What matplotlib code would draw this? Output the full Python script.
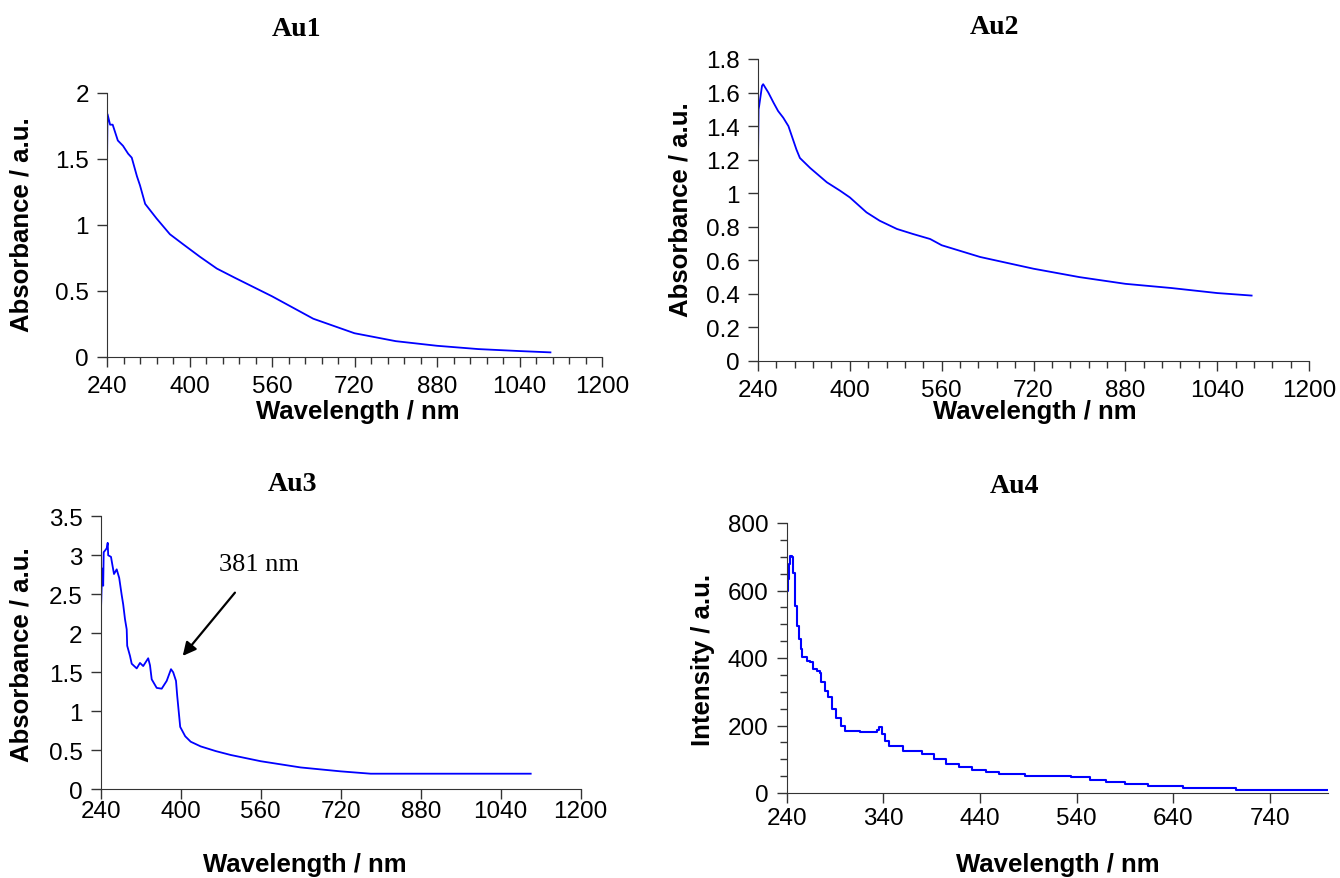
import numpy as np
import matplotlib.pyplot as plt
from matplotlib.ticker import FixedLocator, FormatStrFormatter

# Au1 absorbance
au1_wl = [240, 241, 246, 251, 261, 271, 281, 288, 298, 304, 314, 336, 362, 387,
          420, 453, 488, 560, 640, 720, 800, 880, 960, 1040, 1100]
au1_abs = [1.46, 1.84, 1.76, 1.76, 1.64, 1.60, 1.54, 1.51, 1.37, 1.30, 1.16, 1.05, 0.93, 0.856,
           0.76, 0.67, 0.60, 0.46, 0.29, 0.18, 0.12, 0.085, 0.06, 0.045, 0.035]

# Au2 absorbance
au2_wl = [240, 241, 242, 247, 249, 258, 267, 275, 284, 293, 301, 307, 313, 331,
          360, 383, 400, 429, 452, 482, 510, 540, 560, 627, 720, 800, 880, 960, 1040, 1100]
au2_abs = [1.20, 1.50, 1.52, 1.64, 1.65, 1.60, 1.54, 1.49, 1.45, 1.40, 1.32, 1.26, 1.21, 1.15,
           1.065, 1.015, 0.975, 0.886, 0.836, 0.787, 0.757, 0.727, 0.69, 0.62, 0.55, 0.50, 0.46, 0.435, 0.405, 0.39]

# Au3 absorbance
au3_wl = [240, 240.6, 243, 245, 246, 248.6, 252, 254, 255, 260.6, 263, 266.6, 272, 277,
          282, 285, 288.6, 292, 293, 298.6, 302, 312, 318.6, 325, 335, 338.6, 342, 352,
          362, 372, 380.6, 385, 390.6, 393, 399, 409, 420, 440, 470, 500, 560, 640, 720,
          780, 1100]
au3_abs = [1.5, 2.31, 2.83, 2.61, 3.04, 3.06, 3.09, 3.16, 3.0, 2.98, 2.89, 2.76, 2.82, 2.71,
           2.49, 2.37, 2.18, 2.05, 1.84, 1.71, 1.61, 1.55, 1.62, 1.58, 1.68, 1.59, 1.41, 1.30,
           1.29, 1.39, 1.54, 1.50, 1.39, 1.20, 0.80, 0.68, 0.61, 0.55, 0.49, 0.44, 0.36, 0.28, 0.23,
           0.20, 0.20]

# Au4 intensity
au4_wl = [240, 241, 242.4, 243.4, 245, 246.8, 248.6, 251, 252.7, 254.4, 256, 260.6, 264,
          267.4, 271, 274, 276, 279.5, 283, 287, 291, 296, 300, 316, 326, 333, 336, 339,
          342, 346, 360, 380, 392, 405, 418, 432, 446, 460, 487, 534, 554, 570, 590, 614,
          650, 705, 800]
au4_int = [600, 634, 680, 701, 698, 652, 555, 496, 456, 427, 402, 392, 387,
           367, 362, 357, 328, 303, 283, 250, 222, 200, 185, 181, 180, 186, 195, 175,
           155, 140, 125, 115, 100, 86, 76, 69, 62, 56, 51, 47, 39, 33, 27, 22,
           16, 10, 10]

W, H = 1340, 879
fig = plt.figure(figsize=(W / 100, H / 100), dpi=100)

sans = 'Liberation Sans'
serif = 'Liberation Serif'
blue = '#0000FF'


def make_axes(l, r, t, b, xpad):
    ax = fig.add_axes([l / W, 1 - b / H, (r - l) / W, (b - t) / H])
    for s in ['top', 'right']:
        ax.spines[s].set_visible(False)
    for s in ['left', 'bottom']:
        ax.spines[s].set_color('#333333')
    ax.tick_params(which='major', direction='out', length=7, width=1, colors='#333333',
                   labelcolor='black', labelsize=17.5, pad=6)
    ax.tick_params(axis='x', which='major', pad=xpad)
    ax.tick_params(which='minor', direction='out', length=5, width=1, colors='#333333')
    return ax


# Au1
ax1 = make_axes(107, 602, 94, 358, 6)
ax1.plot(au1_wl, au1_abs, color=blue, lw=1.3)
ax1.set_xlim(240, 1200)
ax1.set_ylim(0, 2)
ax1.xaxis.set_major_locator(FixedLocator(np.arange(240, 1201, 160)))
ax1.xaxis.set_minor_locator(FixedLocator(np.arange(240, 1201, 32)))
ax1.yaxis.set_major_locator(FixedLocator(np.arange(0, 2.01, 0.5)))
ax1.yaxis.set_major_formatter(FormatStrFormatter('%g'))

# Au2
ax2 = make_axes(758, 1309, 60, 362, 6)
ax2.plot(au2_wl, au2_abs, color=blue, lw=1.3)
ax2.set_xlim(240, 1200)
ax2.set_ylim(0, 1.8)
ax2.xaxis.set_major_locator(FixedLocator(np.arange(240, 1201, 160)))
ax2.xaxis.set_minor_locator(FixedLocator(np.arange(240, 1201, 32)))
ax2.yaxis.set_major_locator(FixedLocator(np.round(np.arange(0, 1.81, 0.2), 1)))
ax2.yaxis.set_major_formatter(FormatStrFormatter('%g'))

# Au3
ax3 = make_axes(100.7, 580.7, 517.3, 790.3, 1)
ax3.plot(au3_wl, au3_abs, color=blue, lw=1.3)
ax3.set_xlim(240, 1200)
ax3.set_ylim(0, 3.5)
ax3.xaxis.set_major_locator(FixedLocator(np.arange(240, 1201, 160)))
ax3.yaxis.set_major_locator(FixedLocator(np.arange(0, 3.51, 0.5)))
ax3.yaxis.set_major_formatter(FormatStrFormatter('%g'))
ax3.annotate('381 nm', xy=(404, 1.71), xytext=(556, 2.89), fontsize=19, family=serif,
             ha='center', va='center',
             arrowprops=dict(arrowstyle='-|>', color='black', lw=1.6, mutation_scale=20,
                             shrinkA=14, shrinkB=0))

# Au4
ax4 = make_axes(786.7, 1328, 524, 794, 3)
ax4.plot(au4_wl, au4_int, color=blue, lw=1.5, drawstyle='steps-post')
ax4.set_xlim(240, 800)
ax4.set_ylim(0, 800)
ax4.xaxis.set_major_locator(FixedLocator(np.arange(240, 800, 100)))
ax4.yaxis.set_major_locator(FixedLocator(np.arange(0, 801, 200)))
ax4.yaxis.set_minor_locator(FixedLocator(np.arange(0, 801, 50)))

for ax in [ax1, ax2, ax3, ax4]:
    for lab in ax.get_xticklabels() + ax.get_yticklabels():
        lab.set_family(sans)

# titles and axis labels
fig.text(297 / W, 1 - 30 / H, 'Au1', family=serif, weight='bold', fontsize=20, ha='center', va='center')
fig.text(995 / W, 1 - 27 / H, 'Au2', family=serif, weight='bold', fontsize=20, ha='center', va='center')
fig.text(292 / W, 1 - 485 / H, 'Au3', family=serif, weight='bold', fontsize=20, ha='center', va='center')
fig.text(1014 / W, 1 - 487 / H, 'Au4', family=serif, weight='bold', fontsize=20, ha='center', va='center')

lab_fs = 18.5
fig.text(22 / W, 1 - 225 / H, 'Absorbance / a.u.', family=sans, weight='bold', fontsize=lab_fs,
         rotation=90, ha='center', va='center')
fig.text(680 / W, 1 - 210 / H, 'Absorbance / a.u.', family=sans, weight='bold', fontsize=lab_fs,
         rotation=90, ha='center', va='center')
fig.text(22 / W, 1 - 655 / H, 'Absorbance / a.u.', family=sans, weight='bold', fontsize=lab_fs,
         rotation=90, ha='center', va='center')
fig.text(703 / W, 1 - 660 / H, 'Intensity / a.u.', family=sans, weight='bold', fontsize=lab_fs,
         rotation=90, ha='center', va='center')

fig.text(358 / W, 1 - 412 / H, 'Wavelength / nm', family=sans, weight='bold', fontsize=lab_fs,
         ha='center', va='center')
fig.text(1035 / W, 1 - 412 / H, 'Wavelength / nm', family=sans, weight='bold', fontsize=lab_fs,
         ha='center', va='center')
fig.text(305 / W, 1 - 865 / H, 'Wavelength / nm', family=sans, weight='bold', fontsize=lab_fs,
         ha='center', va='center')
fig.text(1058 / W, 1 - 865 / H, 'Wavelength / nm', family=sans, weight='bold', fontsize=lab_fs,
         ha='center', va='center')

fig.savefig('out.png', dpi=100)
